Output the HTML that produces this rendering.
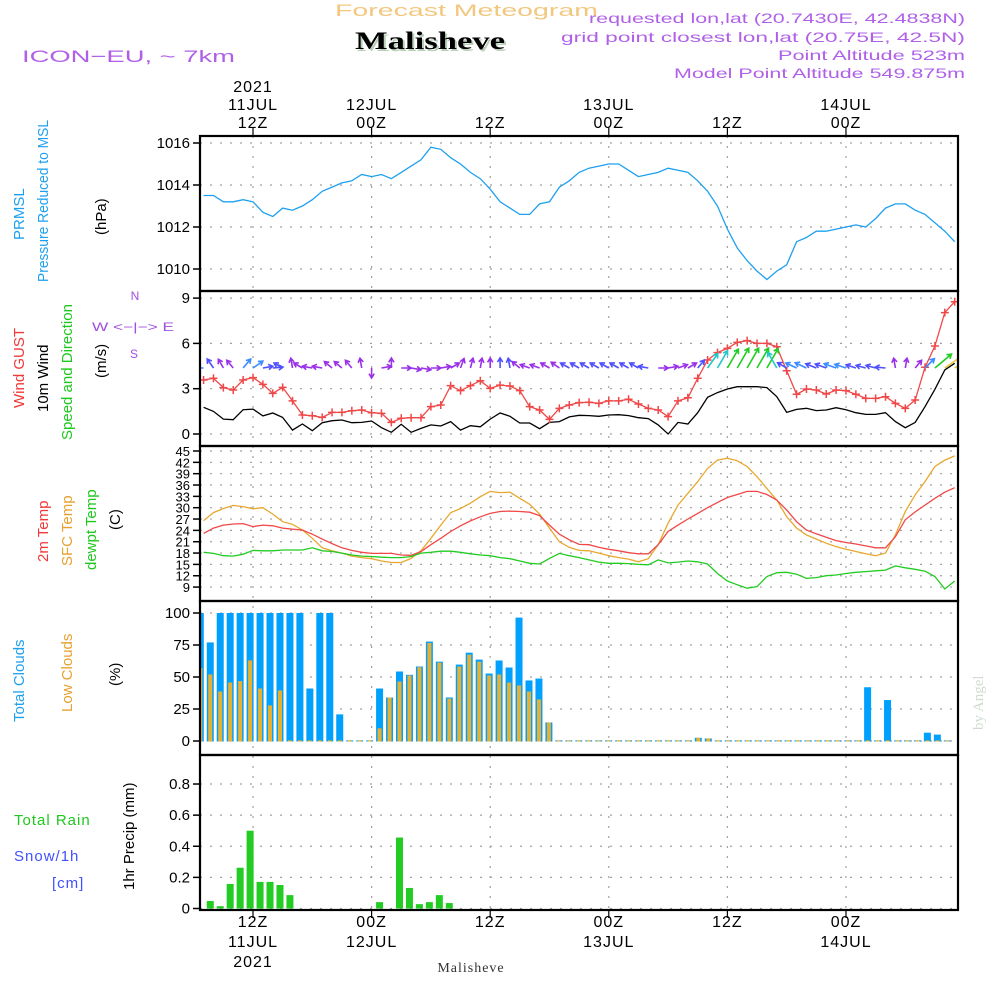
<!DOCTYPE html>
<html><head><meta charset="utf-8"><title>Forecast Meteogram Malisheve</title>
<style>
html,body{margin:0;padding:0;background:#fff;}
svg{display:block;}
text{font-family:"Liberation Sans",sans-serif;}
.serif{font-family:"Liberation Serif",serif;}
</style></head>
<body>
<svg id="chart" width="1000" height="1000" viewBox="0 0 1000 1000" xmlns="http://www.w3.org/2000/svg">
<g>
<text x="335" y="16" textLength="263" lengthAdjust="spacingAndGlyphs" font-size="17" fill="#f2c880">Forecast Meteogram</text>
<text class="serif" x="357" y="51" textLength="150" lengthAdjust="spacingAndGlyphs" font-weight="bold" font-size="25" fill="#b8d0b8">Malisheve</text>
<text class="serif" x="355" y="49" textLength="150" lengthAdjust="spacingAndGlyphs" font-weight="bold" font-size="25" fill="#000">Malisheve</text>
<text x="22" y="62" textLength="213" lengthAdjust="spacingAndGlyphs" font-size="17" fill="#b060e8">ICON−EU, ~ 7km</text>
<text x="589" y="23" textLength="376" lengthAdjust="spacingAndGlyphs" font-size="14" fill="#b060e8">requested lon,lat (20.7430E, 42.4838N)</text>
<text x="561" y="42" textLength="404" lengthAdjust="spacingAndGlyphs" font-size="14" fill="#b060e8">grid point closest lon,lat (20.75E, 42.5N)</text>
<text x="778" y="60" textLength="187" lengthAdjust="spacingAndGlyphs" font-size="14" fill="#b060e8">Point Altitude 523m</text>
<text x="674" y="78" textLength="291" lengthAdjust="spacingAndGlyphs" font-size="14" fill="#b060e8">Model Point Altitude 549.875m</text>
<text class="serif" transform="translate(983,730) rotate(-90)" font-size="15" fill="#d0dcd0">by Angel</text>
<text class="serif" x="471" y="972" text-anchor="middle" font-size="14" fill="#333" letter-spacing="1">Malisheve</text>
</g>
<g font-size="15">
<text transform="translate(24,240) rotate(-90)" fill="#1ea0f0">PRMSL</text>
<text transform="translate(48,282) rotate(-90)" textLength="162" lengthAdjust="spacingAndGlyphs" fill="#1ea0f0">Pressure Reduced to MSL</text>
<text transform="translate(106,235) rotate(-90)" fill="#000">(hPa)</text>
<text transform="translate(24,408) rotate(-90)" fill="#f03838">Wind GUST</text>
<text transform="translate(48,412) rotate(-90)" fill="#000">10m Wind</text>
<text transform="translate(72,440) rotate(-90)" fill="#1ec81e">Speed and Direction</text>
<text transform="translate(106,378) rotate(-90)" fill="#000">(m/s)</text>
<g fill="#a050e0" font-size="12">
<text x="135" y="300" text-anchor="middle">N</text>
<text x="133" y="331" text-anchor="middle" textLength="82" lengthAdjust="spacingAndGlyphs">W &lt;−|−&gt; E</text>
<text x="134" y="358" text-anchor="middle">S</text>
</g>
<text transform="translate(48,562) rotate(-90)" fill="#f03838">2m Temp</text>
<text transform="translate(72,566) rotate(-90)" fill="#e8a030">SFC Temp</text>
<text transform="translate(96,570) rotate(-90)" fill="#1ec81e">dewpt Temp</text>
<text transform="translate(120,530) rotate(-90)" fill="#000">(C)</text>
<text transform="translate(24,722) rotate(-90)" fill="#1ea0f0">Total Clouds</text>
<text transform="translate(72,712) rotate(-90)" fill="#e8a030">Low Clouds</text>
<text transform="translate(120,686) rotate(-90)" fill="#000">(%)</text>
<text x="14" y="825" fill="#1ec81e" letter-spacing="1">Total  Rain</text>
<text x="14" y="861" fill="#4050ff" letter-spacing="1">Snow/1h</text>
<text x="52" y="888" fill="#4050ff" letter-spacing="1">[cm]</text>
<text transform="translate(134,890) rotate(-90)" fill="#000">1hr Precip (mm)</text>
</g>
<g id="plot"></g>
</svg>
<script>
const pressure=[1013.5,1013.5,1013.2,1013.2,1013.3,1013.2,1012.7,1012.5,1012.9,1012.8,1013.0,1013.3,1013.7,1013.9,1014.1,1014.2,1014.5,1014.4,1014.5,1014.3,1014.6,1014.9,1015.2,1015.8,1015.7,1015.3,1015.0,1014.6,1014.3,1013.8,1013.2,1012.9,1012.6,1012.6,1013.1,1013.2,1013.9,1014.2,1014.6,1014.8,1014.9,1015.0,1015.0,1014.7,1014.4,1014.5,1014.6,1014.8,1014.7,1014.6,1014.2,1013.7,1013.0,1011.9,1011.0,1010.4,1009.9,1009.5,1009.9,1010.2,1011.3,1011.5,1011.8,1011.8,1011.9,1012.0,1012.1,1012.0,1012.4,1012.9,1013.1,1013.1,1012.8,1012.6,1012.2,1011.8,1011.3];
const gust=[3.58,3.69,3.07,2.91,3.58,3.73,3.29,2.69,3.09,2.19,1.26,1.21,1.1,1.43,1.43,1.54,1.59,1.41,1.37,0.77,1.04,1.08,1.08,1.81,1.92,3.2,2.87,3.2,3.53,3.02,3.24,3.18,2.87,1.81,1.59,0.97,1.7,1.92,2.08,2.1,2.03,2.19,2.19,2.3,1.99,1.7,1.59,1.15,2.19,2.4,3.69,4.9,5.39,5.67,6.07,6.18,6.0,6.0,5.78,4.19,2.63,2.98,2.91,2.65,2.91,2.87,2.63,2.36,2.36,2.47,2.03,1.7,2.25,4.42,5.83,8.04,8.76];
const wind10=[1.77,1.5,0.99,0.95,1.61,1.65,1.2,1.39,1.1,0.26,0.66,0.22,0.75,0.88,0.93,0.75,0.77,0.86,0.42,0.11,0.64,0.11,0.37,0.6,0.53,0.82,0.26,0.55,0.48,0.99,1.39,1.17,0.73,0.73,0.35,0.77,0.82,1.13,1.24,1.22,1.17,1.26,1.28,1.22,1.08,1.02,0.6,0.0,0.77,0.66,1.41,2.43,2.74,2.98,3.13,3.13,3.13,3.07,2.47,1.43,1.63,1.7,1.55,1.59,1.74,1.6,1.41,1.3,1.3,1.41,0.82,0.42,0.77,1.81,2.96,4.24,4.68];
const windDir=[180,125,120,130,50,35,10,5,150,100,150,170,170,140,140,130,100,270,10,90,0,-10,-10,0,10,30,70,75,80,90,90,100,140,160,160,150,145,150,150,150,150,150,150,150,150,170,0,10,20,30,50,55,60,60,60,60,60,60,120,150,155,155,158,160,160,162,162,165,165,175,100,80,50,45,40,35,35];
const temp2m=[23.2,24.6,25.4,25.7,25.8,25.0,25.4,25.2,24.6,24.3,24.1,23.0,21.7,20.5,19.4,18.7,18.2,17.9,17.9,17.9,17.5,17.4,18.4,20.2,21.9,23.7,25.2,26.5,27.6,28.5,29.0,29.1,29.0,28.8,27.9,25.4,23.0,21.5,20.3,20.2,19.5,19.0,18.6,18.1,17.8,17.8,20.2,23.7,25.4,27.0,28.5,30.0,31.4,32.7,33.5,34.3,34.3,33.5,32.0,29.4,26.3,24.1,23.1,22.2,21.3,20.8,20.4,19.9,19.4,19.4,22.3,26.8,28.9,30.7,32.5,34.1,35.3];
const tempSfc=[26.6,28.7,29.8,30.6,30.3,29.7,30.0,28.3,26.3,25.6,24.1,21.9,19.4,18.6,18.0,17.2,16.8,16.5,15.9,15.5,15.5,16.6,18.6,21.9,25.4,28.7,29.8,31.2,32.9,34.3,34.0,34.1,32.5,30.9,28.3,24.6,21.0,19.5,18.7,18.6,18.0,17.3,16.8,16.4,15.7,16.5,20.2,25.9,30.7,33.8,36.9,40.4,42.6,43.1,42.4,40.9,38.2,35.1,32.0,27.6,24.6,22.8,21.7,20.6,19.7,19.0,18.4,17.8,17.3,18.0,22.8,29.0,33.4,36.9,40.9,42.6,43.7];
const dewpt=[18.2,17.9,17.3,17.2,17.7,18.7,18.6,18.6,18.8,18.8,18.8,19.4,18.6,18.4,18.0,17.5,17.2,17.1,16.9,16.8,16.8,17.1,18.0,18.2,18.5,18.5,18.2,17.8,17.5,17.3,16.8,16.5,15.9,15.3,15.1,16.6,17.9,17.3,16.8,16.2,15.6,15.3,15.3,15.2,15.0,14.9,16.2,15.4,15.6,15.9,15.7,15.1,12.6,10.6,9.6,8.7,9.1,11.8,12.8,12.9,12.4,11.3,11.5,12.0,12.2,12.6,12.9,13.1,13.3,13.5,14.6,14.1,13.7,13.2,11.8,8.5,10.6];
const totalClouds=[100,77,100,100,100,100,100,100,100,100,100,41,100,100,20.8,0.5,0.5,0.5,41,34,54.3,51.7,58.2,77.7,62,34,59.7,69,63.6,52.7,62.9,57.4,96.4,47.3,48.8,14.5,0.5,0.5,0.5,0.5,0.5,0.5,0.5,0.5,0.5,0.5,0.5,0.5,0.5,0.5,2.5,2,0.5,0.5,0.5,0.5,0.5,0.5,0.5,0.5,0.5,0.5,0.5,0.5,0.5,0.5,0.5,42,0.5,32,0.5,0.5,0.5,6.5,5,0.5];
const lowClouds=[57,52,38.7,45.7,46.8,63,41,27.8,39.5,0.5,0.5,0.5,0.5,0.5,0.5,0.5,0.5,0.5,9.9,34,46.5,51.2,57.7,76.6,61.3,33.2,58.2,67.5,62,51.2,52,45.7,43.4,38.7,32.5,14.5,0.5,0.5,0.5,0.5,0.5,0.5,0.5,0.5,0.5,0.5,0.5,0.5,0.5,0.5,2.5,2,0.5,0.5,0.5,0.5,0.5,0.5,0.5,0.5,0.5,0.5,0.5,0.5,0.5,0.5,0.5,0.5,0.5,0.5,0.5,0.5,0.5,0.5,0.5,0.5];
const precip=[0,0.048,0.015,0.158,0.262,0.50,0.171,0.171,0.151,0.086,0,0,0,0,0,0,0,0,0.041,0,0.456,0.132,0.028,0.041,0.086,0.035];
const pressureTicks=[1010,1012,1014,1016];
const windTicks=[0,3,6,9];
const tempTicks=[9,12,15,18,21,24,27,30,33,36,39,42,45];
const cloudTicks=[0,25,50,75,100];
const precipTicks=[0,0.2,0.4,0.6,0.8];
const timeHours=[12,24,36,48,60,72];
const topLabels=[["2021","11JUL","12Z"],["","12JUL","00Z"],["","","12Z"],["","13JUL","00Z"],["","","12Z"],["","14JUL","00Z"]];
const bottomLabels=[["12Z","11JUL","2021"],["00Z","12JUL",""],["12Z","",""],["00Z","13JUL",""],["12Z","",""],["00Z","14JUL",""]];

const NS="http://www.w3.org/2000/svg";
const plot=document.getElementById('plot');
const X0=200,X1=958;
const panels=[[136,291],[291,446],[446,601],[601,755],[755,910]];
function xHour(h){return 253+(h-12)*9.883;}
function xIdx(i){return xHour(7+i);}
function xBar(j){return 200.3+9.96*j;}
function yP(v){return 143+(1016-v)*21;}
function yW(v){return 434-v*15.1;}
function yT(v){return 451+(45-v)*3.78;}
function yC(v){return 741-v*1.28;}
function yR(v){return 908.5-v*155.6;}
function mk(tag,attrs,parent){const e=document.createElementNS(NS,tag);for(const k in attrs)e.setAttribute(k,attrs[k]);(parent||plot).appendChild(e);return e;}

const defs=mk('defs',{});
const cp=mk('clipPath',{id:'clip'},defs);
mk('rect',{x:X0,y:136,width:X1-X0,height:774},cp);

function hgrid(ticks,yf,fmt,name){
  ticks.forEach(t=>{
    const y=yf(t);
    const g=mk('line',{x1:X0,x2:X1,y1:y,y2:y,stroke:'#a0a0a0','stroke-width':1.2,'stroke-dasharray':'2,8'});
    
    
    const tk=mk('line',{x1:X0-7,x2:X0,y1:y,y2:y,stroke:'#000','stroke-width':1.5});
    
    
    const tx=mk('text',{x:X0-10,y:y+5,'text-anchor':'end','font-size':name==='temp'?13:15,fill:'#000'});
    tx.textContent=fmt(t);
    
    
  });
}
hgrid(pressureTicks,yP,v=>v,'pressure');
hgrid(windTicks,yW,v=>v,'wind');
hgrid(tempTicks,yT,v=>v,'temp');
hgrid(cloudTicks,yC,v=>v,'cloud');
hgrid(precipTicks,yR,v=>v===0?'0':v.toFixed(1),'precip');
timeHours.forEach(h=>{
  const x=xHour(h);
  const v=mk('line',{x1:x,x2:x,y1:136,y2:910,stroke:'#a0a0a0','stroke-width':1.2,'stroke-dasharray':'2,8'});
  
  
  const t1=mk('line',{x1:x,x2:x,y1:128,y2:136,stroke:'#000','stroke-width':1.2});
  
  
  const t2=mk('line',{x1:x,x2:x,y1:910,y2:918,stroke:'#000','stroke-width':1.2});
  
  
});
timeHours.forEach((h,k)=>{
  const x=xHour(h);
  topLabels[k].forEach((s,r)=>{ if(!s)return;
    const t=mk('text',{x:x,y:92+r*18,'text-anchor':'middle','font-size':16,fill:'#000','letter-spacing':1});
    t.textContent=s;
    
    
  });
  bottomLabels[k].forEach((s,r)=>{ if(!s)return;
    const t=mk('text',{x:x,y:927+r*20,'text-anchor':'middle','font-size':16,fill:'#000','letter-spacing':1});
    t.textContent=s;
    
    
  });
});

const clipG=mk('g',{'clip-path':'url(#clip)'});
function line(arr,yf,color,name,w){
  const pts=arr.map((v,i)=>xIdx(i).toFixed(1)+','+yf(v).toFixed(1)).join(' ');
  const p=mk('polyline',{points:pts,fill:'none',stroke:color,'stroke-width':w||1.3},clipG);
  
  
  return p;
}
line(pressure,yP,'#1ea0f0','pressure-line');
line(wind10,yW,'#000','wind-10m-line');
line(gust,yW,'#f04848','wind-gust-line');
gust.forEach((v,i)=>{
  const x=xIdx(i),y=yW(v);
  const m=mk('path',{d:`M${x-4},${y}H${x+4}M${x},${y-4}V${y+4}`,stroke:'#f04848','stroke-width':1.5},clipG);
  
  
});
function arrowColor(s){
  if(s<1.0)return '#9a30e8';
  if(s<1.6)return '#5050ff';
  if(s<2.3)return '#3a8cff';
  if(s<2.8)return '#20c8c8';
  if(s<4)return '#22cc22';
  return '#e8c840';
}
windDir.forEach((d,i)=>{
  const s=wind10[i];
  const L=Math.max(10,7.3*s);
  const a=d*Math.PI/180;
  const x0=xIdx(i)-0.4*L*Math.cos(a)*0,y0=368;
  const x1=x0+L*Math.cos(a),y1=y0-L*Math.sin(a);
  const h=5,ha=0.55;
  const hx1=x1+h*Math.cos(a+Math.PI-ha),hy1=y1-h*Math.sin(a+Math.PI-ha);
  const hx2=x1+h*Math.cos(a+Math.PI+ha),hy2=y1-h*Math.sin(a+Math.PI+ha);
  const p=mk('path',{d:`M${x0.toFixed(1)},${y0}L${x1.toFixed(1)},${y1.toFixed(1)}M${hx1.toFixed(1)},${hy1.toFixed(1)}L${x1.toFixed(1)},${y1.toFixed(1)}L${hx2.toFixed(1)},${hy2.toFixed(1)}`,stroke:arrowColor(s),'stroke-width':1.6,fill:'none'},clipG);
  
  
});
line(tempSfc,yT,'#e8a830','sfc-temp-line');
line(temp2m,yT,'#f04848','temp-2m-line');
line(dewpt,yT,'#22cc22','dewpt-line');
totalClouds.forEach((v,j)=>{
  const x=xBar(j);
  const b=mk('rect',{x:x-3.5,y:yC(v),width:7,height:741-yC(v)+0.5,fill:'#00a0ff'},clipG);
  
  
});
lowClouds.forEach((v,j)=>{
  const x=xBar(j);
  const b=mk('rect',{x:x-2,y:yC(v),width:4,height:741-yC(v)+0.5,fill:'#e8b030'},clipG);
  
  
});
precip.forEach((v,j)=>{
  if(v<=0)return;
  const x=xBar(j);
  const b=mk('rect',{x:x-3.5,y:yR(v),width:7,height:yR(0)-yR(v),fill:'#22cc22'},clipG);
  
  
});
panels.forEach(([t,b])=>{
  const r=mk('rect',{x:X0,y:t,width:X1-X0,height:b-t,fill:'none',stroke:'#000','stroke-width':2.2});
  
  
});
</script>
</body></html>
